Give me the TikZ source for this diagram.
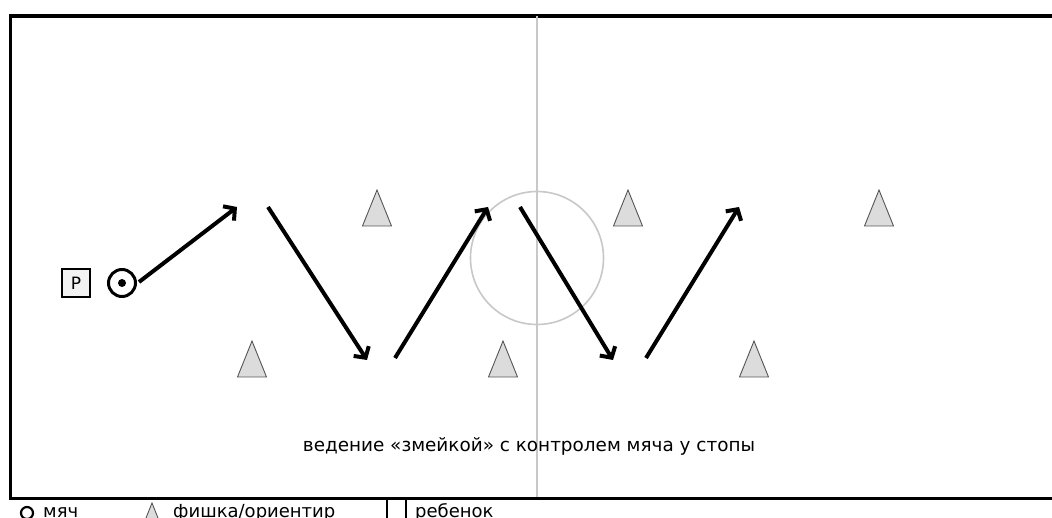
\documentclass[tikz,border=0pt]{standalone}
\usepackage{fontspec}
\setmainfont{DejaVu Sans}
\usetikzlibrary{arrows.meta}
\definecolor{conefill}{HTML}{DCDCDC}
\definecolor{conedraw}{HTML}{555555}
\definecolor{markgray}{HTML}{C8C8C8}
\definecolor{boxfill}{HTML}{F2F2F2}
\tikzset{
  field/.style={line width=3.2pt, draw=black},
  marking/.style={line width=1.6pt, draw=markgray},
  run/.style={line width=4pt, -{Straight Barb[length=8pt,width=18pt,line width=4pt]}},
  conestyle/.style={fill=conefill, draw=conedraw, line width=0.9pt},
  pics/cone/.style={code={\draw[conestyle] (0,-18) -- (14.5,18) -- (-14.5,18) -- cycle;}},
  pics/smallcone/.style={code={\draw[conestyle] (0,-10) -- (8,10) -- (-8,10) -- cycle;}},
  ballstyle/.style={circle, draw=black, line width=3pt, minimum size=27pt, inner sep=0pt},
  playerbox/.style={draw=black, fill=boxfill, line width=2pt, minimum size=28pt, inner sep=0pt, font=\fontsize{17}{17}\selectfont},
  label/.style={font=\fontsize{18.4}{18.4}\selectfont, inner sep=0pt, anchor=base},
  legendtext/.style={font=\fontsize{18}{18}\selectfont, inner sep=0pt, anchor=base west},
}
\begin{document}
\begin{tikzpicture}[x=1pt, y=-1pt]
\useasboundingbox (0,0) rectangle (1052,518);
\fill[white] (0,0) rectangle (1052,518);
% field
\draw[field] (10.5,16) rectangle (1070,498.5);
\draw[marking] (537,16) -- (537,500);
\draw[marking] (537,258) circle[radius=66.5];
% cones
\pic (c1) at (377,208) {cone};
\pic (c2) at (628,208) {cone};
\pic (c3) at (879,208) {cone};
\pic (c4) at (252,359) {cone};
\pic (c5) at (503,359) {cone};
\pic (c6) at (754,359) {cone};
% player and ball
\node[playerbox] (player) at (76,283) {P};
\node[ballstyle] (ball) at (122,283) {};
\fill (ball.center) circle[radius=4];
% arrow coordinates
\coordinate (s1) at (139,282);
\coordinate (e1) at (237,207);
\coordinate (s2) at (268,207);
\coordinate (e2) at (367,360);
\coordinate (s3) at (395,358);
\coordinate (e3) at (488,207);
\coordinate (s4) at (520,207);
\coordinate (e4) at (613,360);
\coordinate (s5) at (646,358);
\coordinate (e5) at (739,207);
\draw[run] (s1) -- (e1);
\draw[run] (s2) -- (e2);
\draw[run] (s3) -- (e3);
\draw[run] (s4) -- (e4);
\draw[run] (s5) -- (e5);
% caption
\node[label] (caption) at (529,451) {ведение «змейкой» с контролем мяча у стопы};
% legend
\node[circle, draw=black, line width=2.2pt, minimum size=12pt, inner sep=0pt] (lball) at (27,513) {};
\node[legendtext] (lballtext) at (43,517) {мяч};
\pic (lcone) at (152,513) {smallcone};
\node[legendtext] (lconetext) at (173,517) {фишка/ориентир};
\node[draw=black, fill=white, line width=1.6pt, minimum size=19pt, inner sep=0pt] (lbox) at (396.5,509) {};
\node[legendtext] (lboxtext) at (415,517) {ребенок};
\draw[field] (10.5,498.5) -- (1070,498.5);
\end{tikzpicture}
\end{document}
